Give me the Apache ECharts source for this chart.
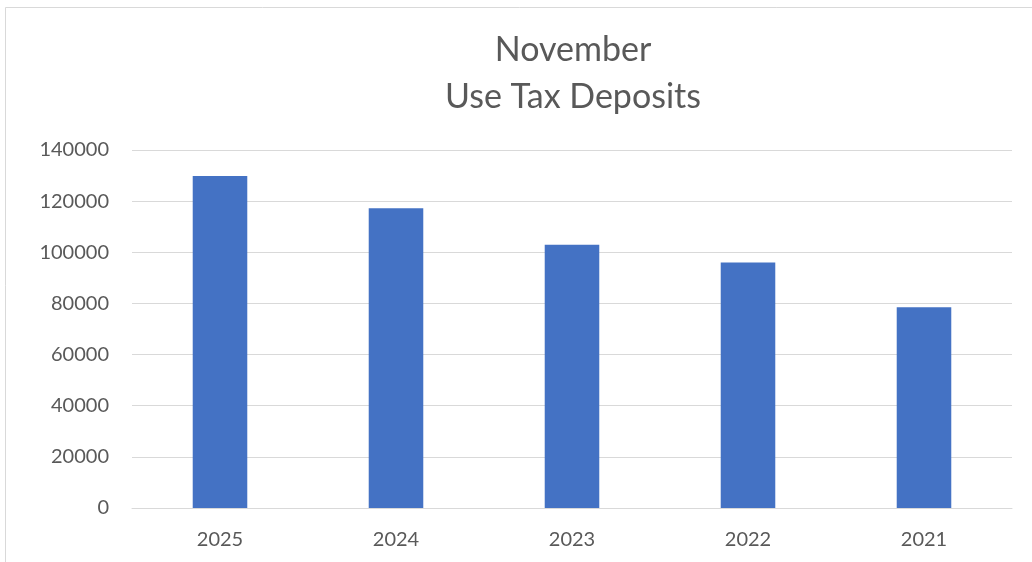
<!DOCTYPE html>
<html>
<head>
<meta charset="utf-8">
<script src="https://cdn.jsdelivr.net/npm/echarts@6/dist/echarts.min.js"></script>
<style>html,body{margin:0;padding:0;background:#fff;}#c{width:1032px;height:562px;}</style>
</head>
<body>
<div id="c"></div>
<script>
const categories = ['2025', '2024', '2023', '2022', '2021'];
const deposits = [129800, 117200, 102900, 96000, 78550];
const yTicks = { min: 0, max: 140000, interval: 20000 };
const titleText = 'November\nUse Tax Deposits';

const chart = echarts.init(document.getElementById('c'), null, { renderer: 'canvas' });
chart.setOption({
  backgroundColor: '#fff',
  animation: false,
  title: {
    text: titleText,
    left: 568,
    top: 22,
    textAlign: 'center',
    textStyle: { fontFamily: 'Lato', fontSize: 34, fontWeight: 'normal', color: '#595959', lineHeight: 47 }
  },
  graphic: [{
    type: 'rect',
    shape: { x: 5.5, y: 7.5, width: 1100, height: 700 },
    style: { fill: 'none', stroke: '#d9d9d9', lineWidth: 1 },
    silent: true
  }],
  grid: { left: 132, right: 20, top: 150, bottom: 54, containLabel: false },
  xAxis: {
    type: 'category',
    data: categories,
    axisLine: { show: true, lineStyle: { color: '#d9d9d9', width: 1 } },
    axisTick: { show: false },
    axisLabel: { color: '#595959', fontFamily: 'Lato', fontSize: 20, margin: 22 }
  },
  yAxis: {
    type: 'value',
    min: yTicks.min, max: yTicks.max, interval: yTicks.interval,
    axisLine: { show: false },
    axisTick: { show: false },
    splitLine: { lineStyle: { color: '#d9d9d9', width: 1 } },
    axisLabel: { color: '#595959', fontFamily: 'Lato', fontSize: 20, margin: 23, formatter: v => String(v) }
  },
  series: [{
    type: 'bar',
    data: deposits,
    barWidth: '31%',
    itemStyle: { color: '#4472c4' }
  }]
});
</script>
</body>
</html>
